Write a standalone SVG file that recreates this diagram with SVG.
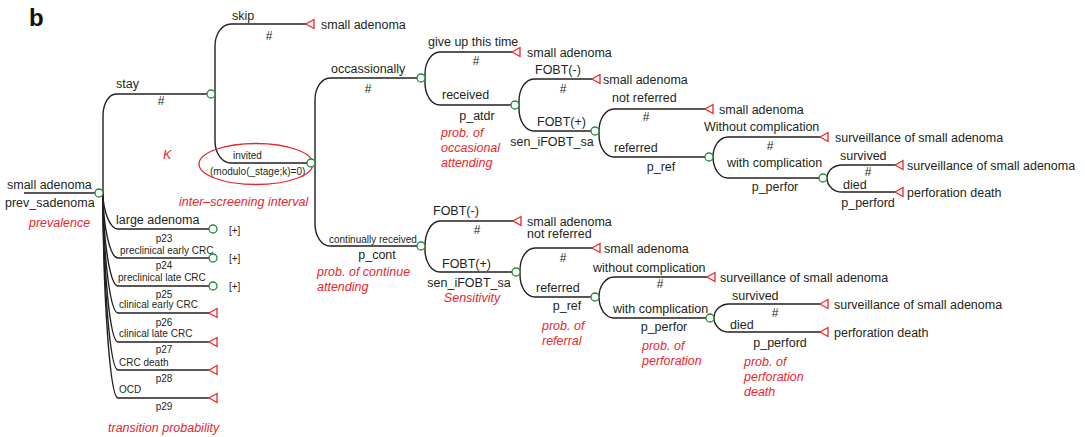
<svg xmlns="http://www.w3.org/2000/svg" xmlns:xlink="http://www.w3.org/1999/xlink" width="1085" height="437" viewBox="0 0 1085 437">
  <style>
    text { font-family: "Liberation Sans", Arial, sans-serif; fill: #231f20; }
    .lbl { font-size: 12.5px; }
    .sm { font-size: 10px; }
    .hs { font-size: 12px; text-anchor: middle; }
    .pc { font-size: 12.5px; text-anchor: middle; }
    .pn { font-size: 10px; text-anchor: middle; }
    .red { font-size: 12.5px; font-style: italic; fill: #e8262b; }
    .ln { fill: none; stroke: #231f20; stroke-width: 1.4; }
    .chance { fill: #ffffff; stroke: #23883a; stroke-width: 1.3; }
    .term { fill: #ffffff; stroke: #e8262b; stroke-width: 1.3; stroke-linejoin: miter; }
  </style>
  <defs>
    <circle id="cn" cx="0" cy="0" r="4" class="chance"/>
    <path id="tn" d="M0,0 L8,-4.5 L8,4.5 Z" class="term"/>
  </defs>
  <rect width="1085" height="437" fill="#ffffff"/>

  <text x="29" y="26" style="font-size:24px;font-weight:bold;fill:#111">b</text>

  <!-- connectors: each branch leaves its node vertically, bends, then runs horizontally -->
  <g id="connectors" class="ln">
    <path d="M24,193 H95"/>
    <!-- root fork -->
    <path d="M103,193 V116 A13 22 0 0 1 116,94 H207"/>
    <path d="M103,193 C103,211 110,229 118,229 H209"/>
    <path d="M103,193 C103,226 110,258 118,258 H209"/>
    <path d="M103,193 C103,240 110,286 118,286 H209"/>
    <path d="M103,193 C103,253 110,313 118,313 H209"/>
    <path d="M103,193 C103,268 110,342 118,342 H209"/>
    <path d="M103,193 C103,282 110,370 118,370 H209"/>
    <path d="M103,193 C103,296 110,398 118,398 H209"/>
    <!-- stay fork -->
    <path d="M215,94 V46 A16 22 0 0 1 231,24 H306"/>
    <path d="M215,94 V141 A16 22 0 0 0 231,163 H307"/>
    <!-- invited fork -->
    <path d="M315,163 V100 A15 22 0 0 1 330,78 H417"/>
    <path d="M315,163 V224 A15 22 0 0 0 330,246 H417"/>
    <!-- occasionally fork -->
    <path d="M425,78 V74 A15 22 0 0 1 440,52 H512"/>
    <path d="M425,78 V83 A15 22 0 0 0 440,105 H511"/>
    <!-- received fork -->
    <path d="M519,105 V101 A15 22 0 0 1 534,79 H592"/>
    <path d="M519,105 V109 A15 22 0 0 0 534,131 H591"/>
    <!-- upper FOBT(+) fork -->
    <path d="M599,131 A15 22 0 0 1 614,109 H705"/>
    <path d="M599,131 V135 A15 22 0 0 0 614,157 H705"/>
    <!-- upper referred fork -->
    <path d="M713,157 A15 20 0 0 1 728,137 H820"/>
    <path d="M713,157 A15 21 0 0 0 728,178 H819"/>
    <!-- upper complication fork -->
    <path d="M827,178 A15 13 0 0 1 842,165 H895"/>
    <path d="M827,178 A15 14 0 0 0 842,192 H895"/>
    <!-- continually received fork -->
    <path d="M425,246 A15 25 0 0 1 440,221 H513"/>
    <path d="M425,246 V250 A15 22 0 0 0 440,272 H512"/>
    <!-- lower FOBT(+) fork -->
    <path d="M520,272 V270 A15 22 0 0 1 535,248 H592"/>
    <path d="M520,272 V275 A15 22 0 0 0 535,297 H591"/>
    <!-- lower referred fork -->
    <path d="M599,297 A15 20 0 0 1 614,277 H707"/>
    <path d="M599,297 A15 21 0 0 0 614,318 H706"/>
    <!-- lower complication fork -->
    <path d="M714,318 A15 14 0 0 1 729,304 H820"/>
    <path d="M714,318 A15 14 0 0 0 729,332 H820"/>
  </g>

  <!-- branch labels -->
  <g id="branch-labels">
    <text class="lbl" x="116" y="88">stay</text>
    <text class="hs" x="161" y="105">#</text>
    <text class="lbl" x="116" y="224">large adenoma</text>
    <text class="pn" x="164" y="242">p23</text>
    <text class="sm" x="120" y="254">preclinical early CRC</text>
    <text class="pn" x="164" y="269">p24</text>
    <text class="sm" x="118" y="281">preclinical late CRC</text>
    <text class="pn" x="164" y="298">p25</text>
    <text class="sm" x="119" y="308">clinical early CRC</text>
    <text class="pn" x="164" y="326">p26</text>
    <text class="sm" x="119" y="337">clinical late CRC</text>
    <text class="pn" x="164" y="353">p27</text>
    <text class="sm" x="119" y="366">CRC death</text>
    <text class="pn" x="164" y="382">p28</text>
    <text class="sm" x="119" y="393">OCD</text>
    <text class="pn" x="164" y="410">p29</text>

    <text class="lbl" x="232" y="20">skip</text>
    <text class="hs" x="269" y="40">#</text>
    <text class="sm" x="233" y="159">invited</text>
    <text class="sm" x="210" y="175">(modulo(_stage;k)=0)</text>

    <text class="lbl" x="331" y="73">occassionally</text>
    <text class="hs" x="368" y="93">#</text>
    <text class="sm" x="329" y="243">continually received</text>
    <text class="pc" x="377" y="259">p_cont</text>

    <text class="lbl" x="428" y="46">give up this time</text>
    <text class="hs" x="476" y="65">#</text>
    <text class="lbl" x="442" y="99">received</text>
    <text class="pc" x="477" y="120">p_atdr</text>

    <text class="lbl" x="535" y="74">FOBT(-)</text>
    <text class="hs" x="563" y="93">#</text>
    <text class="lbl" x="537" y="126">FOBT(+)</text>
    <text class="pc" x="552" y="146">sen_iFOBT_sa</text>

    <text class="lbl" x="612" y="102">not referred</text>
    <text class="hs" x="646" y="121">#</text>
    <text class="lbl" x="614" y="152">referred</text>
    <text class="pc" x="661" y="171">p_ref</text>

    <text class="lbl" x="704" y="131">Without complication</text>
    <text class="hs" x="770" y="150">#</text>
    <text class="lbl" x="727" y="167">with complication</text>
    <text class="pc" x="775" y="191">p_perfor</text>

    <text class="lbl" x="840" y="160">survived</text>
    <text class="hs" x="868" y="176">#</text>
    <text class="lbl" x="843" y="189">died</text>
    <text class="pc" x="868" y="207">p_perford</text>

    <text class="lbl" x="433" y="215">FOBT(-)</text>
    <text class="hs" x="477" y="234">#</text>
    <text class="lbl" x="442" y="268">FOBT(+)</text>
    <text class="pc" x="469" y="287">sen_iFOBT_sa</text>

    <text class="lbl" x="527" y="238">not referred</text>
    <text class="hs" x="563" y="262">#</text>
    <text class="lbl" x="536" y="292">referred</text>
    <text class="pc" x="567" y="310">p_ref</text>

    <text class="lbl" x="593" y="272">without complication</text>
    <text class="hs" x="660" y="288">#</text>
    <text class="lbl" x="613" y="313">with complication</text>
    <text class="pc" x="664" y="331">p_perfor</text>

    <text class="lbl" x="732" y="300">survived</text>
    <text class="hs" x="775" y="317">#</text>
    <text class="lbl" x="730" y="329">died</text>
    <text class="pc" x="780" y="347">p_perford</text>
  </g>

  <!-- parameter notes -->
  <g id="notes">
    <text class="red" x="29" y="227">prevalence</text>
    <text class="red" x="163" y="159">K</text>
    <ellipse cx="256" cy="164" rx="57" ry="20.5" fill="none" stroke="#e8262b" stroke-width="1.3"/>
    <text class="red" x="179" y="206">inter–screening interval</text>
    <text class="red" x="441" y="137">prob. of</text>
    <text class="red" x="441" y="152">occasional</text>
    <text class="red" x="441" y="167">attending</text>
    <text class="red" x="317" y="276">prob. of continue</text>
    <text class="red" x="317" y="291">attending</text>
    <text class="red" x="472" y="302" text-anchor="middle">Sensitivity</text>
    <text class="red" x="542" y="330">prob. of</text>
    <text class="red" x="542" y="345">referral</text>
    <text class="red" x="642" y="350">prob. of</text>
    <text class="red" x="642" y="365">perforation</text>
    <text class="red" x="744" y="366">prob. of</text>
    <text class="red" x="744" y="381">perforation</text>
    <text class="red" x="744" y="396">death</text>
    <text class="red" x="108" y="432">transition probability</text>
  </g>

  <!-- chance nodes -->
  <g id="n-root"><text class="lbl" x="7" y="189">small adenoma</text><text class="lbl" x="5" y="207">prev_sadenoma</text><use xlink:href="#cn" x="99" y="193"/></g>
  <g id="n-stay"><use xlink:href="#cn" x="211" y="94"/></g>
  <g id="n-invited"><use xlink:href="#cn" x="311" y="163"/></g>
  <g id="n-occ"><use xlink:href="#cn" x="421" y="78"/></g>
  <g id="n-occ-recv"><use xlink:href="#cn" x="515" y="105"/></g>
  <g id="n-occ-pos"><use xlink:href="#cn" x="595" y="131"/></g>
  <g id="n-occ-ref"><use xlink:href="#cn" x="709" y="157"/></g>
  <g id="n-occ-comp"><use xlink:href="#cn" x="823" y="178"/></g>
  <g id="n-cont"><use xlink:href="#cn" x="421" y="246"/></g>
  <g id="n-cont-pos"><use xlink:href="#cn" x="516" y="272"/></g>
  <g id="n-cont-ref"><use xlink:href="#cn" x="595" y="297"/></g>
  <g id="n-cont-comp"><use xlink:href="#cn" x="710" y="318"/></g>
  <g id="n-large"><use xlink:href="#cn" x="213" y="229"/><text class="sm" x="229" y="234">[+]</text></g>
  <g id="n-pre-early"><use xlink:href="#cn" x="213" y="258"/><text class="sm" x="229" y="262">[+]</text></g>
  <g id="n-pre-late"><use xlink:href="#cn" x="213" y="286"/><text class="sm" x="229" y="290">[+]</text></g>

  <!-- terminal nodes -->
  <g id="t-clin-early"><use xlink:href="#tn" x="209" y="313"/></g>
  <g id="t-clin-late"><use xlink:href="#tn" x="209" y="342"/></g>
  <g id="t-crc-death"><use xlink:href="#tn" x="209" y="370"/></g>
  <g id="t-ocd"><use xlink:href="#tn" x="209" y="398"/></g>
  <g id="t-skip"><use xlink:href="#tn" x="306" y="24"/><text class="lbl" x="321" y="29">small adenoma</text></g>
  <g id="t-giveup"><use xlink:href="#tn" x="512" y="52"/><text class="lbl" x="527" y="57">small adenoma</text></g>
  <g id="t-occ-neg"><use xlink:href="#tn" x="592" y="79"/><text class="lbl" x="603" y="84">small adenoma</text></g>
  <g id="t-occ-notref"><use xlink:href="#tn" x="705" y="109"/><text class="lbl" x="719" y="114">small adenoma</text></g>
  <g id="t-occ-nocomp"><use xlink:href="#tn" x="820" y="137"/><text class="lbl" x="835" y="142">surveillance of small adenoma</text></g>
  <g id="t-occ-surv"><use xlink:href="#tn" x="895" y="165"/><text class="lbl" x="907" y="170">surveillance of small adenoma</text></g>
  <g id="t-occ-died"><use xlink:href="#tn" x="895" y="192"/><text class="lbl" x="907" y="197">perforation death</text></g>
  <g id="t-cont-neg"><use xlink:href="#tn" x="513" y="221"/><text class="lbl" x="527" y="226">small adenoma</text></g>
  <g id="t-cont-notref"><use xlink:href="#tn" x="592" y="248"/><text class="lbl" x="604" y="253">small adenoma</text></g>
  <g id="t-cont-nocomp"><use xlink:href="#tn" x="707" y="277"/><text class="lbl" x="720" y="282">surveillance of small adenoma</text></g>
  <g id="t-cont-surv"><use xlink:href="#tn" x="820" y="304"/><text class="lbl" x="834" y="309">surveillance of small adenoma</text></g>
  <g id="t-cont-died"><use xlink:href="#tn" x="820" y="332"/><text class="lbl" x="834" y="337">perforation death</text></g>
</svg>
